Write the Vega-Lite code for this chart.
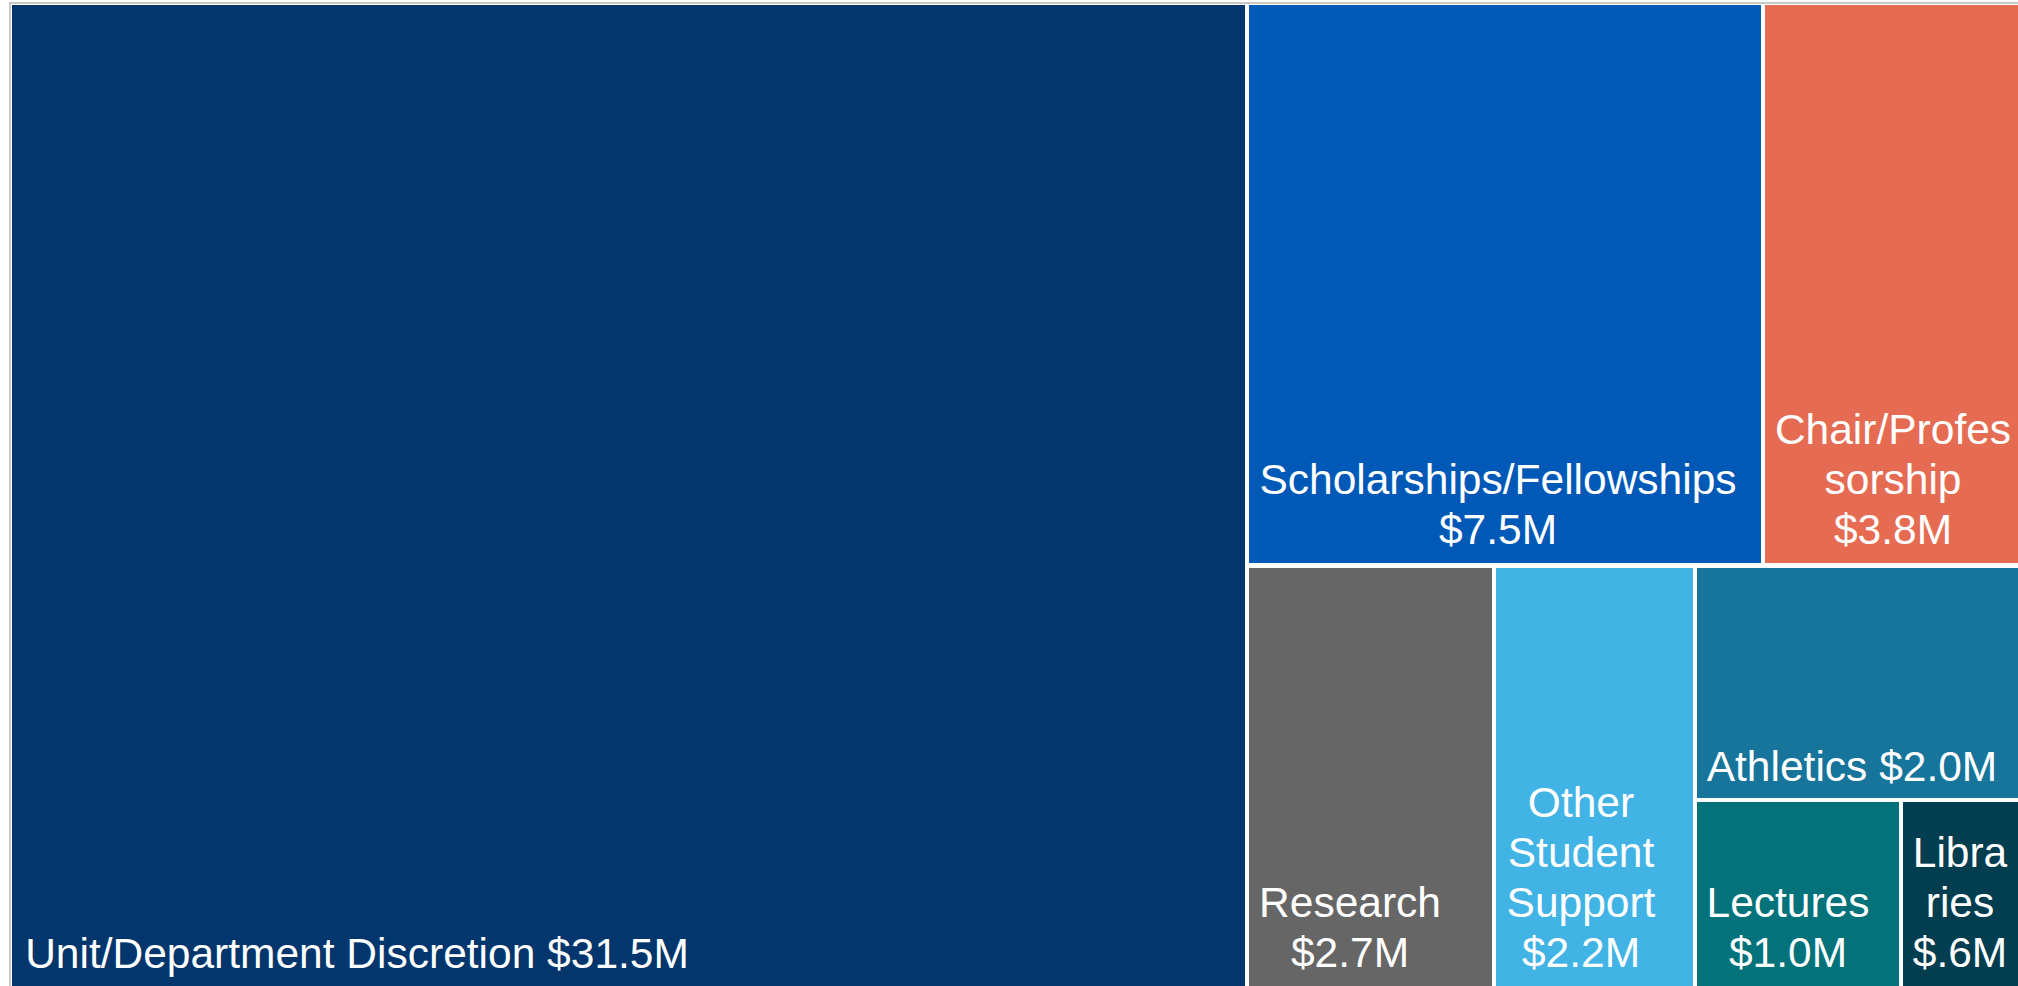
{
  "$schema": "https://vega.github.io/schema/vega-lite/v6.json",
  "width": 2020,
  "height": 990,
  "autosize": {"type": "none"},
  "padding": {"left": 10, "top": 3, "right": 0, "bottom": 0},
  "background": "white",
  "config": {"view": {"stroke": "#c8c8c8", "strokeWidth": 2}},
  "data": {
    "values": [
      {"category": "Unit/Department Discretion", "value": 31.5, "x0": 2, "x1": 1235, "y0": 2, "y1": 983, "lx": 347, "ly": 965, "label": "Unit/Department Discretion $31.5M"},
      {"category": "Scholarships/Fellowships", "value": 7.5, "x0": 1239, "x1": 1751, "y0": 2, "y1": 560, "lx": 1488, "ly": 491, "label": "Scholarships/Fellowships\n$7.5M"},
      {"category": "Chair/Professorship", "value": 3.8, "x0": 1755, "x1": 2020, "y0": 2, "y1": 560, "lx": 1883, "ly": 441, "label": "Chair/Profes\nsorship\n$3.8M"},
      {"category": "Research", "value": 2.7, "x0": 1239, "x1": 1482, "y0": 565, "y1": 983, "lx": 1340, "ly": 914, "label": "Research\n$2.7M"},
      {"category": "Other Student Support", "value": 2.2, "x0": 1486, "x1": 1683, "y0": 565, "y1": 983, "lx": 1571, "ly": 814, "label": "Other\nStudent\nSupport\n$2.2M"},
      {"category": "Athletics", "value": 2.0, "x0": 1687, "x1": 2020, "y0": 565, "y1": 795, "lx": 1842, "ly": 778, "label": "Athletics $2.0M"},
      {"category": "Lectures", "value": 1.0, "x0": 1687, "x1": 1889, "y0": 799, "y1": 983, "lx": 1778, "ly": 914, "label": "Lectures\n$1.0M"},
      {"category": "Libraries", "value": 0.6, "x0": 1893, "x1": 2020, "y0": 799, "y1": 983, "lx": 1950, "ly": 864, "label": "Libra\nries\n$.6M"}
    ]
  },
  "layer": [
    {
      "mark": {"type": "rect"},
      "encoding": {
        "x": {"field": "x0", "type": "quantitative", "scale": {"domain": [0, 2020], "nice": false, "zero": false}, "axis": null},
        "x2": {"field": "x1"},
        "y": {"field": "y0", "type": "quantitative", "scale": {"domain": [0, 990], "nice": false, "zero": false, "reverse": true}, "axis": null},
        "y2": {"field": "y1"},
        "color": {
          "field": "category",
          "type": "nominal",
          "scale": {
            "domain": ["Unit/Department Discretion", "Scholarships/Fellowships", "Chair/Professorship", "Research", "Other Student Support", "Athletics", "Lectures", "Libraries"],
            "range": ["#02366D", "#0059B7", "#E56C53", "#666666", "#41B3E5", "#17759C", "#03727A", "#023D50"]
          },
          "legend": null
        }
      }
    },
    {
      "mark": {"type": "text", "align": "center", "baseline": "alphabetic", "font": "Liberation Sans", "fontSize": 42.5, "lineHeight": 50, "lineBreak": "\n", "color": "white"},
      "encoding": {
        "x": {"field": "lx", "type": "quantitative"},
        "y": {"field": "ly", "type": "quantitative"},
        "text": {"field": "label", "type": "nominal"}
      }
    }
  ]
}
